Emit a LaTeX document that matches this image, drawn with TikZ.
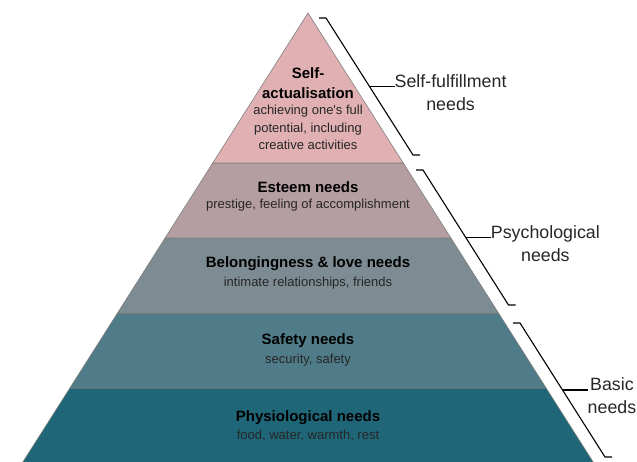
\documentclass[tikz,border=0pt]{standalone}
\usepackage{fontspec}
\setmainfont{Liberation Sans}
\usetikzlibrary{positioning}
\definecolor{selfcol}{HTML}{E0B0B2}
\definecolor{esteemcol}{HTML}{B49EA2}
\definecolor{lovecol}{HTML}{7D8B92}
\definecolor{safecol}{HTML}{507B88}
\definecolor{physcol}{HTML}{1E6678}
\tikzset{
      layer/.style={draw=black!50, line width=0.6},
      bracket/.style={draw=black, line width=1.1},
      title/.style={font=\fontsize{15}{20}\selectfont\bfseries, inner sep=0, align=center, anchor=base},
      descr/.style={font=\fontsize{13}{17.5}\selectfont, text=black!85, inner sep=0, align=center, anchor=base},
      group/.style={font=\fontsize{17.8}{23}\selectfont, text=black!85, inner sep=0, align=center, yshift=-6},
}
\begin{document}
\begin{tikzpicture}[x=1pt,y=-1pt]
        \useasboundingbox (0,0) rectangle (637,462);

        % Draw the layers
        \draw[layer, fill=physcol] (20.3,466) -- (69.9,388) -- (546.1,388) -- (595.7,466) -- cycle;
        \draw[layer, fill=safecol] (69.9,388) -- (117.5,313) -- (498.5,313) -- (546.1,388) -- cycle;
        \draw[layer, fill=lovecol] (117.5,313) -- (165.1,238) -- (450.9,238) -- (498.5,313) -- cycle;
        \draw[layer, fill=esteemcol] (165.1,238) -- (212.75,163) -- (403.25,163) -- (450.9,238) -- cycle;
        \draw[layer, fill=selfcol] (212.75,163) -- (308,13) -- (403.25,163) -- cycle;

        % Draw the texts
        \node[title] (selfT) at (308,99) {Self-\\actualisation};
        \node[descr] (selfD) at (308,150) {achieving one\textquotesingle s full\\potential, including\\creative activities};
        \node[title] (esteemT) at (308,193) {Esteem needs};
        \node[descr] (esteemD) at (308,209) {prestige, feeling of accomplishment};
        \node[title] (loveT) at (308,268) {Belongingness \& love needs};
        \node[descr] (loveD) at (308,287) {intimate relationships, friends};
        \node[title] (safeT) at (308,344) {Safety needs};
        \node[descr] (safeD) at (308,363) {security, safety};
        \node[title] (physT) at (308,421) {Physiological needs};
        \node[descr] (physD) at (308,439) {food, water, warmth, rest};

        % Draw the brackets
        \draw[bracket] (319,18) -- (326,18) -- coordinate[midway] (selfB) (413,155) -- (420,155);
        \draw[bracket] (416,170) -- (423,170) -- coordinate[midway] (psyB) (508.5,305) -- (515.5,305);
        \draw[bracket] (513,323) -- (520,323) -- coordinate[midway] (basicB) (605,457) -- (612,457);

        \node[group, right=25 of selfB] (selfG) {Self-fulfillment\\needs};
        \node[group, right=25 of psyB] (psyG) {Psychological\\needs};
        \node[group, right=25 of basicB] (basicG) {Basic\\needs};

        \draw[bracket] (selfB) -- (selfB -| selfG.west);
        \draw[bracket] (psyB) -- (psyB -| psyG.west);
        \draw[bracket] (basicB) -- (basicB -| basicG.west);

    \end{tikzpicture}
\end{document}
